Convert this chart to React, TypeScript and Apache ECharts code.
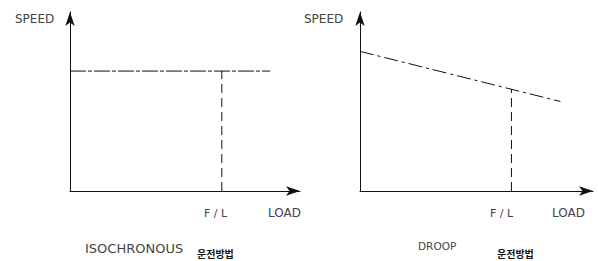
import React, { useEffect, useRef } from "react";
import * as echarts from "echarts";

// Isochronous: speed stays constant with load
const isoLoad = [0, 87];
const isoSpeed = [67, 67];
const isoFL = [66, 66];
const isoFLSpeed = [0, 67];

// Droop: speed falls as load rises
const droopLoad = [0, 86];
const droopSpeed = [78, 50];
const droopFL = [65, 65];
const droopFLSpeed = [0, 57];

const axisMax = 100;
const titles = ["ISOCHRONOUS", "DROOP"];
const subTitle = "운전방법";

const FONT = `"DejaVu Sans", sans-serif`;
const TXT = "#444";

export default function App() {
  const ref = useRef<HTMLDivElement>(null);
  useEffect(() => {
    if (!ref.current) return;
    const chart = echarts.init(ref.current, undefined, { renderer: "svg" });
    const axisLine = {
      show: true,
      lineStyle: { color: "#111", width: 1 },
      symbol: ["none", "arrow"],
      symbolSize: [7, 14],
      symbolOffset: [0, 0],
    };
    const mkAxis = (gi: number) => ({
      type: "value" as const,
      gridIndex: gi,
      min: 0,
      max: axisMax,
      axisLine,
      axisTick: { show: false },
      axisLabel: { show: false },
      splitLine: { show: false },
    });
    const zip = (a: number[], b: number[]) => a.map((v, i) => [v, b[i]]);
    const lineSeries = (gi: number, data: number[][], type: any) => ({
      type: "line" as const,
      xAxisIndex: gi,
      yAxisIndex: gi,
      data,
      showSymbol: false,
      symbol: "none",
      lineStyle: { color: "#111", width: 1, type },
      silent: true,
    });
    const txt = (text: string, x: number, y: number, size = 11, weight: any = "normal", font = FONT, fill = TXT) => ({
      type: "text" as const,
      x,
      y,
      style: {
        text,
        fill,
        font: `${weight} ${size}px ${font}`,
        textVerticalAlign: "middle",
      },
    });
    const KFONT = `"Noto Sans CJK KR", sans-serif`;
    chart.setOption({
      animation: false,
      backgroundColor: "#fff",
      grid: [
        { left: 70, top: 12, width: 230, height: 179 },
        { left: 360, top: 12, width: 233, height: 179 },
      ],
      xAxis: [mkAxis(0), mkAxis(1)],
      yAxis: [mkAxis(0), mkAxis(1)],
      series: [
        lineSeries(0, zip(isoLoad, isoSpeed), [16, 2, 4, 2]),
        lineSeries(0, zip(isoFL, isoFLSpeed), [9, 5]),
        lineSeries(1, zip(droopLoad, droopSpeed), [14, 4, 3, 4]),
        lineSeries(1, zip(droopFL, droopFLSpeed), [9, 5]),
      ],
      graphic: [
        txt("SPEED", 15, 19, 12),
        txt("SPEED", 304, 19, 12),
        txt("F / L", 204, 213, 11),
        txt("LOAD", 268, 213, 12),
        txt("F / L", 490, 213, 11),
        txt("LOAD", 552, 213, 12),
        txt(titles[0], 85, 248, 13),
        txt(titles[1], 418, 246, 10.5),
        txt(subTitle, 197, 253, 10, "bold", KFONT, "#111"),
        txt(subTitle, 497, 253, 10, "bold", KFONT, "#111"),
      ],
    });
    return () => chart.dispose();
  }, []);
  return (
    <div
      ref={ref}
      style={{ position: "fixed", left: 0, top: 0, width: 598, height: 261 }}
    />
  );
}
